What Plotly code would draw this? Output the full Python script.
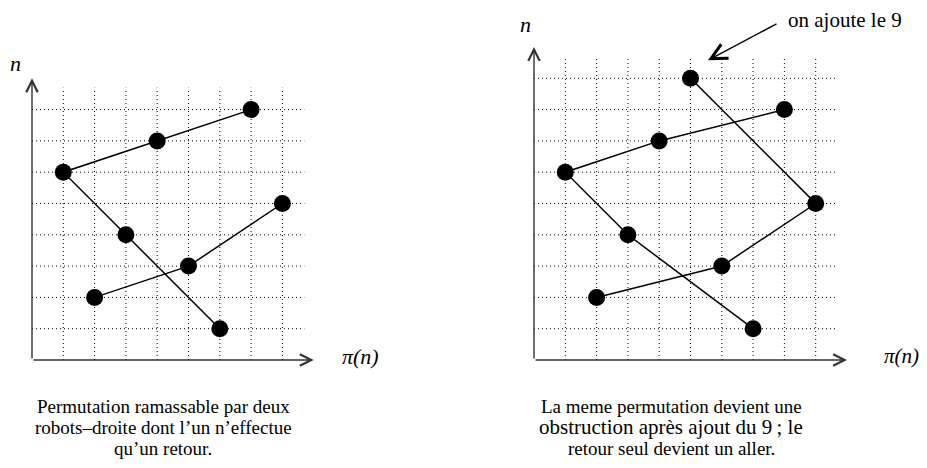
import plotly.graph_objects as go

# ---------------- data ----------------
left_n = [1, 2, 3, 4, 5, 6, 7, 8]
left_pi = [6, 2, 5, 3, 8, 1, 4, 7]
left_chain_a = [8, 7, 6, 4, 1]      # n values, joined in this order
left_chain_b = [2, 3, 5]

right_n = [1, 2, 3, 4, 5, 6, 7, 8, 9]
right_pi = [7, 2, 6, 3, 9, 1, 4, 8, 5]
right_chain_a = [8, 7, 6, 4, 1]
right_chain_b = [2, 3, 5, 9]

left_caption = ["Permutation ramassable par deux",
                "robots\u2013droite dont l\u2019un n\u2019effectue",
                "qu\u2019un retour."]
right_caption = ["La meme permutation devient une",
                 "obstruction apr\u00e8s ajout du 9\u202f; le",
                 "retour seul devient un aller."]
note_text = "on ajoute le 9"

# ---------------- geometry ----------------
OFF = 8            # page body margin
W, H = 919, 452    # figure size so that it fits in the 927x468 window
U = 31.3           # pixels per unit


def px_x(p):
    return (p - OFF) / W


def px_y(p):
    return (H - (p - OFF)) / H


def domain(origin_px, lo, hi, axis):
    if axis == "x":
        return [px_x(origin_px + lo * U), px_x(origin_px + hi * U)]
    return [px_y(origin_px - lo * U), px_y(origin_px - hi * U)]


fig = go.Figure()
FONT = "Liberation Serif"
DOT = "1px,3px"


def panel(xa, ya, n_vals, pi_vals, chains, size):
    xref, yref = xa, ya
    # dotted grid
    gx, gy = [], []
    ext = size + 0.7
    for k in range(1, size + 1):
        gx += [k, k, None]
        gy += [0, ext, None]
        gx += [0, ext, None]
        gy += [k, k, None]
    fig.add_trace(go.Scatter(x=gx, y=gy, mode="lines", xaxis=xref, yaxis=yref,
                             line=dict(color="black", width=1, dash=DOT),
                             hoverinfo="skip", showlegend=False))
    lookup = dict(zip(n_vals, pi_vals))
    for ch in chains:
        fig.add_trace(go.Scatter(x=[lookup[n] for n in ch], y=ch, mode="lines",
                                 xaxis=xref, yaxis=yref,
                                 line=dict(color="black", width=1.5),
                                 showlegend=False, hoverinfo="skip"))
    fig.add_trace(go.Scatter(x=pi_vals, y=n_vals, mode="markers", xaxis=xref, yaxis=yref,
                             marker=dict(color="black", size=17),
                             cliponaxis=False, showlegend=False))
    # axes with arrows
    tip = size + 1
    for (x, y) in [(tip, 0), (0, tip)]:
        fig.add_annotation(x=x, y=y, ax=0, ay=0, xref=xref, yref=yref,
                           axref=xref, ayref=yref, text="", showarrow=True,
                           arrowhead=5, arrowsize=1.6, arrowwidth=1.4,
                           arrowcolor="#333333")


panel("x", "y", left_n, left_pi, [left_chain_a, left_chain_b], 8)
panel("x2", "y2", right_n, right_pi, [right_chain_a, right_chain_b], 9)

# arrow pointing at the added 9
fig.add_annotation(x=5.56, y=9.58, xref="x2", yref="y2", ax=70, ay=-37,
                   text="", showarrow=True, arrowhead=5, arrowsize=2.2,
                   arrowwidth=1.4, arrowcolor="black")

texts = [
    (15, 63, "n", 22),
    (360, 356, "\u03c0(n)", 22),
    (525, 24, "n", 22),
    (901, 356, "\u03c0(n)", 21),
]
for x, y, t, s in texts:
    fig.add_annotation(x=px_x(x), y=px_y(y), xref="paper", yref="paper",
                       text=f"<i>{t}</i>", showarrow=False,
                       font=dict(family=FONT, size=s, color="black"),
                       xanchor="center", yanchor="middle")

fig.add_annotation(x=px_x(786), y=px_y(20), xref="paper", yref="paper",
                   text=note_text, showarrow=False, xanchor="left", yanchor="middle",
                   font=dict(family=FONT, size=21, color="black"))

for i, line in enumerate(left_caption):
    fig.add_annotation(x=px_x(163), y=px_y(406 + 21 * i), xref="paper", yref="paper",
                       text=line, showarrow=False, xanchor="center", yanchor="middle",
                       font=dict(family=FONT, size=19, color="black"))
right_sizes = [19, 21, 19]
for i, line in enumerate(right_caption):
    fig.add_annotation(x=px_x(671), y=px_y(406 + 21 * i), xref="paper", yref="paper",
                       text=line, showarrow=False, xanchor="center", yanchor="middle",
                       font=dict(family=FONT, size=right_sizes[i], color="black"))

ax_common = dict(visible=False, showgrid=False, zeroline=False, fixedrange=True)
fig.update_layout(
    width=W, height=H, margin=dict(l=0, r=0, t=0, b=0),
    plot_bgcolor="white", paper_bgcolor="white", showlegend=False,
    xaxis=dict(range=[-0.3, 9.5], domain=domain(32, -0.3, 9.5, "x"), anchor="y", **ax_common),
    yaxis=dict(range=[-0.3, 9.6], domain=domain(360, -0.3, 9.6, "y"), anchor="x", **ax_common),
    xaxis2=dict(range=[-0.3, 10.5], domain=domain(534, -0.3, 10.5, "x"), anchor="y2", **ax_common),
    yaxis2=dict(range=[-0.3, 10.6], domain=domain(360, -0.3, 10.6, "y"), anchor="x2", **ax_common),
)

fig.write_html("out.html")
